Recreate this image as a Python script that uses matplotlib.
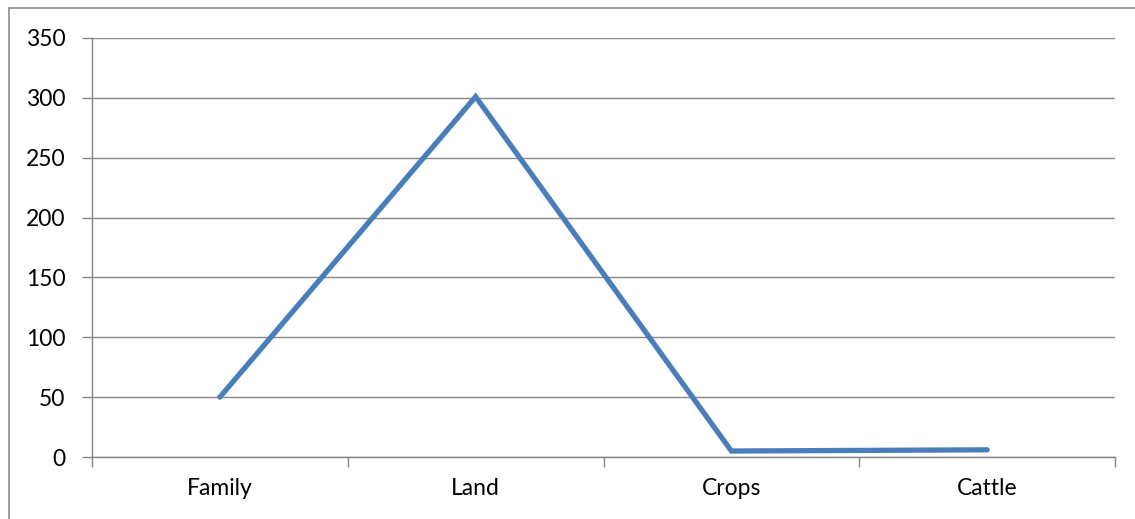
import matplotlib.pyplot as plt
from matplotlib.patches import Rectangle

# categories and their values
categories = ["Family", "Land", "Crops", "Cattle"]
values = [50, 301, 5, 6]
y_ticks = [0, 50, 100, 150, 200, 250, 300, 350]

plt.rcParams["font.family"] = ["Lato", "DejaVu Sans"]

fig = plt.figure(figsize=(11.35, 5.19), dpi=100)
ax = fig.add_axes([92 / 1135, 62 / 519, 1023 / 1135, 419 / 519])

grid_col = "#868686"
x = [i + 0.5 for i in range(len(categories))]
ax.plot(x, values, color="#4A7EBB", linewidth=3.8, solid_capstyle="round",
        solid_joinstyle="miter", zorder=3)

ax.set_xlim(0, len(categories))
ax.set_ylim(0, 350)
ax.set_yticks(y_ticks)
ax.yaxis.grid(True, color=grid_col, linewidth=1.0)
ax.set_axisbelow(True)

# boundary ticks between categories, labels in the middle
ax.set_xticks(range(len(categories) + 1))
ax.set_xticklabels([])
ax.set_xticks(x, minor=True)
ax.set_xticklabels(categories, minor=True)
ax.tick_params(axis="x", which="major", length=7, color=grid_col, width=1.0)
ax.tick_params(axis="x", which="minor", length=0, pad=15, labelsize=16.5)
ax.tick_params(axis="y", length=7, color=grid_col, width=1.0, pad=12, labelsize=16.5)

for side in ["top", "right"]:
    ax.spines[side].set_visible(False)
for side in ["left", "bottom"]:
    ax.spines[side].set_color(grid_col)
    ax.spines[side].set_linewidth(1.0)

# chart area border (runs off the right and bottom edges)
fig.patches.append(Rectangle((9 / 1135, -20 / 519), 1200 / 1135, 531 / 519,
                             transform=fig.transFigure, fill=False,
                             edgecolor="#8c8c8c", linewidth=1.2))

fig.savefig("out.png", dpi=100)
